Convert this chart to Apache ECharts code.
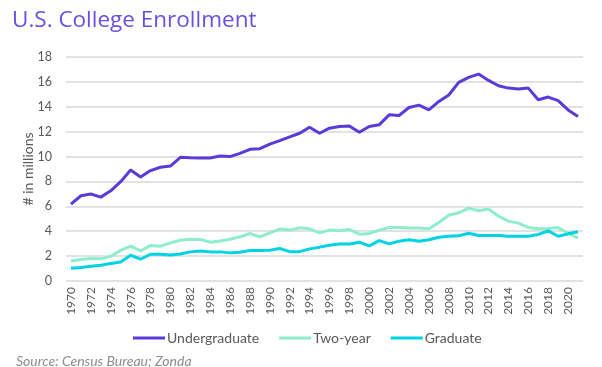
<!DOCTYPE html>
<html><head><meta charset="utf-8">
<script src="https://cdn.jsdelivr.net/npm/echarts@6/dist/echarts.min.js"></script>
<style>html,body{margin:0;padding:0;background:#fff}#c{width:602px;height:367px}</style>
</head><body><div id="c"></div>
<script>
const years = [];
for (let y = 1970; y <= 2021; y++) years.push(String(y));
const undergraduate = [6.18,6.85,6.99,6.74,7.25,7.98,8.92,8.35,8.87,9.14,9.24,9.94,9.9,9.88,9.88,10.05,10.0,10.26,10.58,10.63,11.0,11.28,11.58,11.87,12.36,11.87,12.28,12.41,12.46,11.95,12.41,12.55,13.35,13.3,13.94,14.13,13.75,14.43,14.95,15.96,16.36,16.63,16.12,15.69,15.5,15.42,15.5,14.56,14.78,14.5,13.75,13.22];
const twoYear = [1.61,1.72,1.8,1.78,1.99,2.47,2.8,2.42,2.85,2.8,3.06,3.28,3.36,3.33,3.12,3.22,3.36,3.55,3.82,3.55,3.87,4.17,4.09,4.27,4.19,3.87,4.09,4.04,4.14,3.76,3.82,4.09,4.3,4.3,4.25,4.25,4.2,4.7,5.29,5.48,5.86,5.64,5.78,5.21,4.81,4.65,4.3,4.19,4.22,4.3,3.82,3.44];
const graduate = [1.02,1.08,1.18,1.27,1.4,1.53,2.07,1.75,2.15,2.15,2.09,2.17,2.34,2.42,2.34,2.34,2.26,2.31,2.45,2.45,2.47,2.61,2.36,2.36,2.58,2.72,2.88,2.98,2.98,3.12,2.82,3.25,2.98,3.2,3.31,3.2,3.31,3.52,3.6,3.63,3.84,3.66,3.66,3.66,3.6,3.6,3.6,3.74,4.03,3.6,3.79,3.95];
const seriesNames = ['Undergraduate','Two-year','Graduate'];
const colors = ['#5a3bd8','#8eeecb','#00d3e3'];
const font = 'Lato, "Open Sans", sans-serif';
const chart = echarts.init(document.getElementById('c'));
const mk = (name, data, color) => ({
  name, type: 'line', data, showSymbol: false, symbol: 'none',
  lineStyle: { width: 3, color }, itemStyle: { color }
});
chart.setOption({
  animation: false,
  title: [{ text: 'U.S. College Enrollment', left: 7, top: 4,
    textStyle: { color: '#6a4fe2', fontSize: 22.5, fontWeight: 'normal', fontFamily: '"Open Sans", sans-serif' } },
    { text: 'Source: Census Bureau; Zonda', left: 11, top: 349,
    textStyle: { color: '#8c8c8c', fontSize: 14, fontStyle: 'italic', fontWeight: 'normal', fontFamily: font } }],
  grid: { left: 66, right: 19, top: 57, bottom: 86 },
  legend: { data: seriesNames, top: 326, left: 128, itemWidth: 32, itemHeight: 3, itemGap: 20,
    icon: 'rect', textStyle: { color: '#595959', fontSize: 14, fontFamily: font, padding: [0, 0, 0, -3] } },
  xAxis: { type: 'category', data: years, boundaryGap: true,
    axisLine: { show: false }, axisTick: { show: false },
    axisLabel: { interval: 1, rotate: 90, color: '#595959', fontSize: 12, fontFamily: font, margin: 6 } },
  yAxis: { type: 'value', min: 0, max: 18, interval: 2, name: '# in millions', nameLocation: 'middle', nameGap: 31,
    nameMoveOverlap: false,
    nameTextStyle: { color: '#595959', fontSize: 14, fontFamily: font },
    axisLabel: { color: '#595959', fontSize: 12.5, fontFamily: font, margin: 14 },
    splitLine: { lineStyle: { color: '#d9d9d9', width: 1.5 } } },
  series: [mk(seriesNames[0], undergraduate, colors[0]), mk(seriesNames[1], twoYear, colors[1]), mk(seriesNames[2], graduate, colors[2])]
});
</script></body></html>
